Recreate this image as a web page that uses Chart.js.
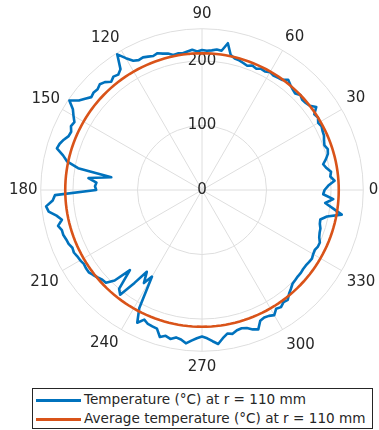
<!DOCTYPE html>
<html>
<head>
<meta charset="utf-8">
<title>Temperature at r = 110 mm</title>
<script src="https://cdn.jsdelivr.net/npm/chart.js@4.4.1/dist/chart.umd.min.js"></script>
<style>
  html, body { margin: 0; padding: 0; background: #fff; width: 379px; height: 430px; overflow: hidden; position: relative;
               font-family: "DejaVu Sans", sans-serif; color: #262626; }
  #wrap { position: absolute; left: 1px; top: -2px; width: 387px; height: 387px; }
  #legend { position: absolute; left: 32px; top: 388px; width: 339px; height: 39px; border: 1px solid #262626; background: #fff; }
  .row { position: absolute; left: 0; width: 100%; height: 19px; }
  .swatch { position: absolute; left: 3px; top: 9px; width: 45px; height: 3px; }
  .text { position: absolute; left: 51px; top: 0; line-height: 19px; font-size: 13.6px; white-space: nowrap; }
</style>
</head>
<body>
<div id="wrap"><canvas id="polar" width="387" height="387"></canvas></div>
<div id="legend">
  <div class="row" style="top:1px"><span class="swatch" id="sw0"></span><span class="text" id="lg0"></span></div>
  <div class="row" style="top:20px"><span class="swatch" id="sw1"></span><span class="text" id="lg1"></span></div>
</div>
<script>
// Angular sampling of the measurement (degrees between samples, counter-clockwise from 0)
const angleStep = 2;

// Measured temperature (°C) at r = 110 mm, one value per 2°, from 0° to 358°
const temperature = [
  190, 196, 206, 200, 202, 196, 192, 198, 203, 205,   //   0 –  18
  202, 204, 207, 208, 210, 208, 212, 210, 219, 212,   //  20 –  38
  210, 209, 212, 208, 210, 213, 217, 211, 210, 209,   //  40 –  58
  211, 208, 209, 206, 208, 205, 207, 209, 210, 214,   //  60 –  78
  231, 218, 219, 217, 216, 217, 215, 218, 216, 214,   //  80 –  98
  215, 214, 218, 220, 223, 221, 223, 225, 224, 227,   // 100 – 118
  236, 248, 226, 221, 223, 219, 225, 228, 225, 226,   // 120 – 138
  224, 230, 236, 248, 236, 230, 224, 226, 222, 223,   // 140 – 158
  228, 232, 234, 222, 214, 195, 142, 177, 164, 166,   // 160 – 178
  164, 228, 232, 243, 240, 229, 222, 230, 226, 226,   // 180 – 198
  224, 223, 220, 221, 219, 218, 216, 217, 217, 214,   // 200 – 218
  211, 208, 207, 195, 167, 200, 206, 178, 153, 170,   // 220 – 238
  155, 207, 229, 220, 224, 225, 226, 237, 233, 236,   // 240 – 258
  232, 234, 239, 234, 230, 227, 230, 235, 240, 232,   // 260 – 278
  226, 228, 224, 223, 225, 230, 233, 222, 220, 221,   // 280 – 298
  224, 217, 219, 215, 216, 210, 206, 202, 201, 200,   // 300 – 318
  200, 199, 199, 200, 201, 199, 198, 200, 200, 196,   // 320 – 338
  194, 193, 190, 189, 198, 220, 205, 192, 204, 188    // 340 – 358
];

// Average temperature (°C) at r = 110 mm
const averageTemperature = 212;

// Axis annotation
const angleTickLabels = [0, 30, 60, 90, 120, 150, 180, 210, 240, 270, 300, 330];
const radialTickLabels = [0, 100, 200];
const radialMax = 250;

const seriesNames = ['Temperature (°C) at r = 110 mm', 'Average temperature (°C) at r = 110 mm'];
const seriesColors = ['#0072BD', '#D95319'];

const textColor = '#262626';
const gridColor = '#dedede';
const fontFamily = '"DejaVu Sans", sans-serif';
const axisFontSize = 15;

// Gap between the outer ring and each angle label
const labelGap = {
  '0': -1.9, '30': -2.2, '60': -2.6, '90': -2.3, '120': -3.8, '150': -4.9,
  '180': -4.4, '210': -3.4, '240': -1.9, '270': -0.8, '300': -0.5, '330': -1.7
};

// The radial scale runs clockwise from the top, so slot i holds the sample at (90 - i*step) degrees
const sampleCount = temperature.length;
const slotToSample = Array.from({ length: sampleCount }, (_, i) =>
  (((90 - i * angleStep) % 360) + 360) % 360 / angleStep);
const slotLabels = slotToSample.map(k => {
  const deg = k * angleStep;
  return angleTickLabels.includes(deg) ? String(deg) : '';
});
const temperatureSeries = slotToSample.map(k => temperature[k]);
const averageSeries = slotToSample.map(() => averageTemperature);

// Tick "0" sits on the pole, which the radial scale leaves unlabelled
const poleLabel = {
  id: 'poleLabel',
  afterDraw(chart) {
    const s = chart.scales.r;
    const ctx = chart.ctx;
    ctx.save();
    ctx.font = axisFontSize + 'px ' + fontFamily;
    ctx.fillStyle = textColor;
    ctx.textAlign = 'center';
    ctx.textBaseline = 'middle';
    const v = radialTickLabels[0];
    ctx.fillText(String(v), s.xCenter, s.yCenter - s.getDistanceFromCenterForValue(v));
    ctx.restore();
  }
};

new Chart(document.getElementById('polar'), {
  type: 'radar',
  data: {
    labels: slotLabels,
    datasets: [
      { label: seriesNames[0], data: temperatureSeries, borderColor: seriesColors[0], borderWidth: 2.6,
        fill: false, pointRadius: 0, tension: 0, borderJoinStyle: 'round', order: 1 },
      { label: seriesNames[1], data: averageSeries, borderColor: seriesColors[1], borderWidth: 2.6,
        fill: false, pointRadius: 0, tension: 0, order: 0 }
    ]
  },
  options: {
    responsive: false,
    devicePixelRatio: 1,
    animation: false,
    events: [],
    layout: { padding: 0 },
    plugins: { legend: { display: false }, tooltip: { enabled: false }, title: { display: false } },
    scales: {
      r: {
        min: 0,
        max: radialMax,
        startAngle: 0,
        afterBuildTicks: scale => {
          scale.ticks = radialTickLabels.concat([radialMax]).map(v => ({ value: v }));
        },
        ticks: {
          display: true,
          showLabelBackdrop: false,
          backdropPadding: 0,
          color: textColor,
          font: { family: fontFamily, size: axisFontSize },
          callback: v => radialTickLabels.includes(v) ? String(v) : ''
        },
        grid: { circular: true, color: gridColor, lineWidth: 1 },
        angleLines: {
          display: true,
          color: gridColor,
          lineWidth: ctx => slotLabels[ctx.index] !== '' ? 1 : 0
        },
        pointLabels: {
          display: true,
          color: textColor,
          font: { family: fontFamily, size: axisFontSize },
          padding: ctx => {
            const lab = slotLabels[ctx.index];
            return lab === '' ? -10 : labelGap[lab];
          }
        }
      }
    }
  },
  plugins: [poleLabel]
});

// Legend box
seriesNames.forEach((name, i) => {
  document.getElementById('lg' + i).textContent = name;
  document.getElementById('sw' + i).style.background = seriesColors[i];
});
</script>
</body>
</html>
